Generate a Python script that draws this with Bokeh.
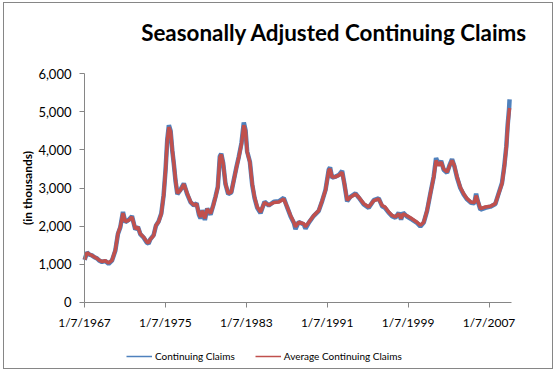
import pandas as pd
from bokeh.plotting import figure
from bokeh.models import (FixedTicker, NumeralTickFormatter, Range1d, Legend,
                          LegendItem, ColumnDataSource, Label)
from bokeh.embed import file_html
from bokeh.resources import INLINE

# ---------------- data ----------------
years = [1967.03, 1967.26, 1967.5, 1967.75, 1968.0, 1968.25, 1968.5, 1968.74, 1969.07, 1969.4,
         1969.73, 1970.06, 1970.32, 1970.55, 1970.82, 1971.05, 1971.38, 1971.71, 1972.04, 1972.3,
         1972.53, 1972.86, 1973.19, 1973.35, 1973.52, 1973.85, 1974.08, 1974.34, 1974.61, 1974.84,
         1975.03, 1975.2, 1975.36, 1975.53, 1975.7, 1975.85, 1976.02, 1976.2, 1976.5, 1976.84,
         1977.18, 1977.5, 1977.83, 1978.1, 1978.33, 1978.49, 1978.66, 1978.92, 1979.15, 1979.48,
         1979.75, 1979.97, 1980.2, 1980.4, 1980.54, 1980.73, 1980.96, 1981.23, 1981.53, 1981.78,
         1982.05, 1982.28, 1982.54, 1982.77, 1982.94, 1983.1, 1983.37, 1983.6, 1983.83, 1984.1,
         1984.42, 1984.82, 1985.24, 1985.74, 1986.23, 1986.72, 1987.06, 1987.39, 1987.72, 1987.88,
         1988.2, 1988.7, 1988.87, 1989.2, 1989.69, 1990.18, 1990.52, 1990.85, 1991.17, 1991.3,
         1991.5, 1991.83, 1992.16, 1992.49, 1992.72, 1992.99, 1993.31, 1993.81, 1994.13, 1994.63,
         1995.12, 1995.62, 1996.11, 1996.45, 1996.73, 1997.1, 1997.43, 1997.76, 1998.09, 1998.32,
         1998.52, 1998.91, 1999.41, 1999.9, 2000.23, 2000.56, 2000.89, 2001.22, 2001.55, 2001.78,
         2002.04, 2002.28, 2002.53, 2002.87, 2003.13, 2003.36, 2003.59, 2003.86, 2004.18, 2004.51,
         2004.85, 2005.24, 2005.57, 2005.74, 2005.9, 2006.16, 2006.65, 2007.15, 2007.64, 2007.97,
         2008.3, 2008.53, 2008.73, 2008.86, 2009.0, 2009.05]

average_claims = [1120, 1300, 1260, 1230, 1190, 1150, 1100, 1070, 1090, 1030,
                  1100, 1360, 1800, 1970, 2340, 2120, 2150, 2240, 1930, 1970,
                  1800, 1710, 1580, 1560, 1650, 1750, 2020, 2110, 2320, 2800,
                  3460, 4250, 4600, 4480, 3990, 3640, 3200, 2860, 2940, 3100,
                  2850, 2640, 2550, 2580, 2330, 2240, 2400, 2200, 2450, 2330,
                  2540, 2760, 3020, 3800, 3880, 3640, 3110, 2860, 2890, 3200,
                  3550, 3810, 4160, 4650, 4500, 3950, 3680, 3110, 2760, 2500,
                  2370, 2620, 2550, 2620, 2630, 2710, 2500, 2280, 2100, 1980,
                  2100, 2060, 1980, 2100, 2280, 2410, 2670, 2940, 3460, 3500,
                  3290, 3290, 3330, 3410, 3110, 2680, 2760, 2840, 2760, 2590,
                  2500, 2670, 2710, 2540, 2500, 2370, 2280, 2240, 2320, 2200,
                  2320, 2270, 2190, 2100, 2020, 2100, 2410, 2850, 3290, 3720,
                  3590, 3680, 3500, 3420, 3590, 3720, 3590, 3290, 3020, 2850,
                  2720, 2630, 2620, 2800, 2670, 2460, 2500, 2520, 2590, 2850,
                  3110, 3550, 4070, 4600, 5000, 5100]

continuing_claims = [1110, 1310, 1250, 1230, 1180, 1150, 1090, 1060, 1080, 1010,
                     1090, 1350, 1790, 1960, 2370, 2100, 2160, 2260, 1910, 1980,
                     1790, 1700, 1560, 1540, 1650, 1760, 2010, 2120, 2330, 2810,
                     3470, 4270, 4650, 4500, 3980, 3630, 3180, 2840, 2950, 3120,
                     2830, 2630, 2540, 2600, 2300, 2200, 2420, 2160, 2460, 2300,
                     2550, 2770, 3030, 3830, 3900, 3650, 3100, 2840, 2880, 3210,
                     3560, 3830, 4180, 4720, 4520, 3960, 3690, 3090, 2740, 2480,
                     2340, 2640, 2540, 2640, 2650, 2740, 2490, 2260, 2080, 1920,
                     2110, 2040, 1930, 2090, 2270, 2400, 2660, 2950, 3480, 3540,
                     3270, 3300, 3340, 3450, 3100, 2650, 2770, 2860, 2750, 2570,
                     2480, 2680, 2730, 2520, 2480, 2350, 2260, 2220, 2350, 2170,
                     2350, 2250, 2170, 2080, 1990, 2090, 2400, 2860, 3300, 3790,
                     3600, 3710, 3480, 3400, 3610, 3760, 3570, 3270, 3000, 2830,
                     2700, 2610, 2600, 2850, 2660, 2430, 2480, 2510, 2580, 2860,
                     3130, 3580, 4100, 4650, 5080, 5330]

tick_labels = ["1/7/1967", "1/7/1975", "1/7/1983", "1/7/1991", "1/7/1999", "1/7/2007"]
y_ticks = [0, 1000, 2000, 3000, 4000, 5000, 6000]
title_text = "Seasonally Adjusted Continuing Claims"


def dec_year(label):
    ts = pd.to_datetime(label, format="%m/%d/%Y")
    return ts.year + (ts.dayofyear - 1) / 365.25


tick_pos = [dec_year(t) for t in tick_labels]
X_END = 2009.24

# ---------------- layout (pixels inside the canvas) ----------------
W, H = 548, 365            # canvas = frame (the whole canvas is the frame)
AX_LEFT, AX_RIGHT = 80, 507
Y_TOP, Y_ZERO = 70.3, 298.7
px_year = (AX_RIGHT - AX_LEFT) / (X_END - tick_pos[0])
px_unit = (Y_ZERO - Y_TOP) / y_ticks[-1]
x_start = tick_pos[0] - AX_LEFT / px_year
x_end = X_END + (W - AX_RIGHT) / px_year
y_end = y_ticks[-1] + Y_TOP / px_unit
y_start = -(H - Y_ZERO) / px_unit

FONT = "Lato"
BLUE = "#4F81BD"
RED = "#C0504D"
AXIS_GRAY = "#868686"

p = figure(frame_width=W, frame_height=H, output_backend="svg", toolbar_location=None,
           x_range=Range1d(x_start, x_end), y_range=Range1d(y_start, y_end),
           min_border=0)
p.styles = {"border": "1px solid #868686", "margin-left": "3px", "margin-top": "2px"}
p.outline_line_color = None
p.xgrid.grid_line_color = None
p.ygrid.grid_line_color = None
p.background_fill_color = "white"
p.border_fill_color = "white"

src = ColumnDataSource(dict(x=years, cc=continuing_claims, avg=average_claims))
p.line("x", "cc", source=src, line_color=BLUE, line_width=4.5)
p.line("x", "avg", source=src, line_color=RED, line_width=3.5)

# title
p.add_layout(Label(x=X_END, y=y_ticks[-1], x_offset=16, y_offset=41, text=title_text,
                   text_align="right", text_baseline="alphabetic", text_font=FONT,
                   text_font_size="22.4px", text_font_style="bold", text_color="black"))

# legend sample lines (thin, like the reference legend); a single point draws nothing
lb = p.line(x=years[:1], y=continuing_claims[:1], line_color=BLUE, line_width=1.5)
lr = p.line(x=years[:1], y=average_claims[:1], line_color=RED, line_width=1.5)
legend = Legend(items=[LegendItem(label="Continuing Claims", renderers=[lb]),
                       LegendItem(label="Average Continuing Claims", renderers=[lr])],
                orientation="horizontal", location=(122, 6),
                label_text_font=FONT, label_text_font_size="10px", label_text_color="black",
                glyph_width=26, glyph_height=10, spacing=20, label_standoff=3,
                border_line_color=None, background_fill_alpha=0, padding=2, margin=0)
p.add_layout(legend, "center")

xa = p.xaxis[0]
xa.fixed_location = 0
xa.bounds = (tick_pos[0], X_END)
xa.ticker = FixedTicker(ticks=tick_pos)
xa.major_label_overrides = {tp: lab for tp, lab in zip(tick_pos, tick_labels)}
ya = p.yaxis[0]
ya.fixed_location = tick_pos[0]
ya.bounds = (y_ticks[0], y_ticks[-1])
ya.ticker = FixedTicker(ticks=y_ticks)
ya.formatter = NumeralTickFormatter(format="0,0")
ya.axis_label = "(in thousands)"
ya.axis_label_text_font = FONT
ya.axis_label_text_font_style = "bold"
ya.axis_label_text_font_size = "12px"
ya.axis_label_text_color = "black"
ya.axis_label_standoff = 0

for ax in (xa, ya):
    ax.axis_line_color = AXIS_GRAY
    ax.major_tick_line_color = AXIS_GRAY
    ax.major_tick_out = 5
    ax.major_tick_in = 0
    ax.minor_tick_line_color = None
    ax.major_label_text_font = FONT
    ax.major_label_text_color = "black"
xa.major_label_text_font_size = "12px"
ya.major_label_text_font_size = "13px"
xa.major_label_standoff = 8
ya.major_label_standoff = 8

open("out.html", "w").write(file_html(p, INLINE))
